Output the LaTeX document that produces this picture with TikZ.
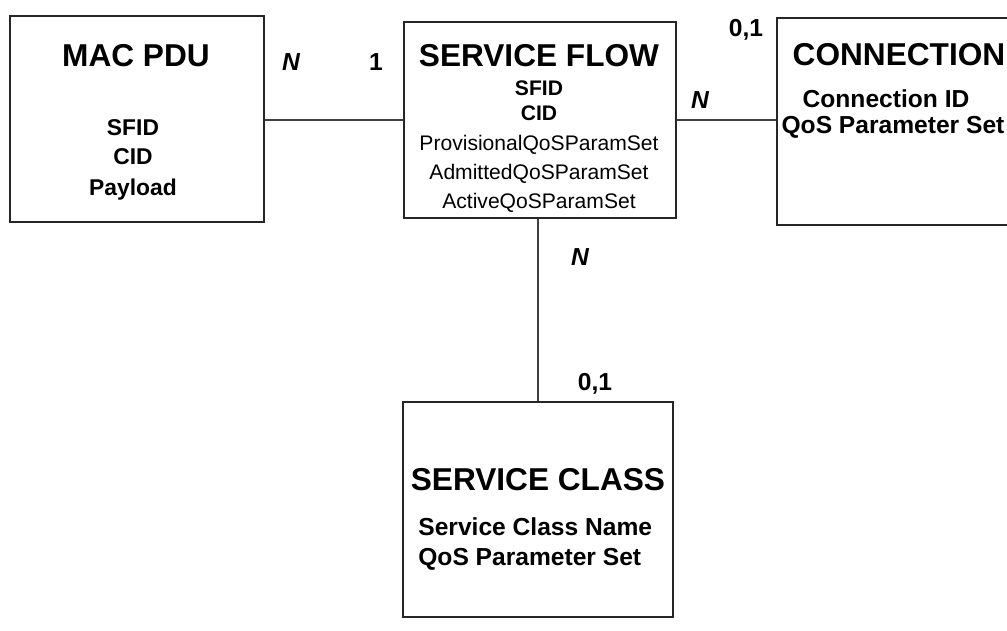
\documentclass[tikz,border=0pt]{standalone}
\usepackage{fontspec}
\setmainfont{Liberation Sans}
\usetikzlibrary{calc}

\tikzset{
  entity/.style={draw=black!85, line width=1.1pt, rectangle, inner sep=0pt},
  title/.style={font=\fontsize{18}{20}\selectfont\bfseries, anchor=base, inner sep=0pt},
  field/.style={font=\fontsize{13}{15}\selectfont\bfseries, anchor=base, inner sep=0pt},
  param/.style={font=\fontsize{12}{14}\selectfont, anchor=base, inner sep=0pt},
  card/.style={font=\fontsize{14}{16}\selectfont\bfseries, anchor=base, inner sep=0pt},
  link/.style={draw=black!75, line width=0.9pt}
}

\begin{document}
\begin{tikzpicture}[x=0.02cm, y=-0.02cm]

\useasboundingbox (0,0) rectangle (1007,630);
\clip (0,0) rectangle (1007,630);

% MAC PDU box
\node[entity, minimum width=5.08cm, minimum height=4.12cm] (mac) at (137,119) {};
\node[title] (macT) at (136,66) {MAC PDU};
\node[field] (macA) at (133,135) {SFID};
\node[field] (macB) at (133,164) {CID};
\node[field] (macC) at (133,195) {Payload};

% Service flow box
\node[entity, minimum width=5.44cm, minimum height=3.92cm] (sf) at (540,120) {};
\node[title] (sfT) at (539,66) {SERVICE FLOW};
\node[field, font=\fontsize{12}{14}\selectfont\bfseries] (sfA) at (539,95) {SFID};
\node[field, font=\fontsize{12}{14}\selectfont\bfseries] (sfB) at (539,120) {CID};
\node[param] (sfC) at (539,150) {ProvisionalQoSParamSet};
\node[param] (sfD) at (539,179) {AdmittedQoSParamSet};
\node[param] (sfE) at (539,208) {ActiveQoSParamSet};

% Connection box (runs off the right edge)
\node[entity, minimum width=4.86cm, minimum height=4.14cm] (conn) at (898.5,121.5) {};
\node[title] (connT) at (899,65) {CONNECTION};
\node[card] (connA) at (886,107) {Connection ID};
\node[card] (connB) at (893,133) {QoS Parameter Set};

% Service class box
\node[entity, minimum width=5.4cm, minimum height=4.3cm] (sc) at (538,509.5) {};
\node[title] (scT) at (538,490) {SERVICE CLASS};
\node[card, anchor=base west] (scA) at (418,535) {Service Class Name};
\node[card, anchor=base west] (scB) at (418,565) {QoS Parameter Set};

% Relations
\draw[link] (mac.east |- sf.west) -- (sf.west);
\draw[link] (sf.east) -- (conn.west |- sf.east);
\draw[link] (sf.south -| sc.north) -- (sc.north);

% Cardinalities
\node[card, font=\fontsize{14}{16}\selectfont\bfseries\itshape] (n1) at (291,70) {N};
\node[card] (one) at (376,70) {1};
\node[card, font=\fontsize{14}{16}\selectfont\bfseries\itshape] (n2) at (700,108) {N};
\node[card] (z1) at (746,36) {0,1};
\node[card, font=\fontsize{14}{16}\selectfont\bfseries\itshape] (n3) at (580,265) {N};
\node[card] (z2) at (595,390) {0,1};

\end{tikzpicture}
\end{document}
